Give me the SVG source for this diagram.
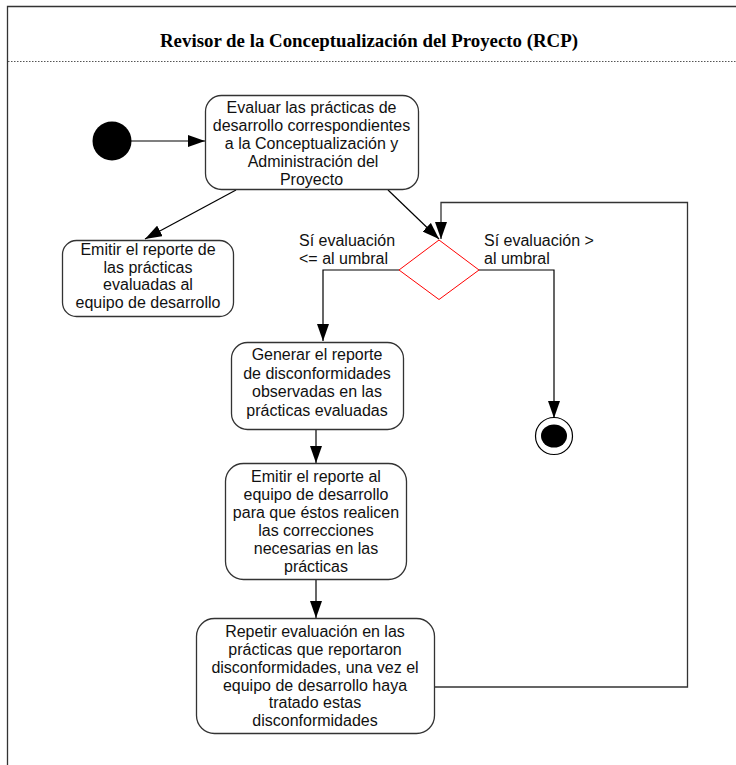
<svg xmlns="http://www.w3.org/2000/svg" width="736" height="765" viewBox="0 0 736 765">
<defs>
<marker id="arr" markerUnits="userSpaceOnUse" markerWidth="18" markerHeight="12" refX="17" refY="6" orient="auto">
<path d="M0,0 L17,6 L0,12 z" fill="#000"/>
</marker>
<style>
.box{fill:#fff;stroke:#333;stroke-width:1.3}
.t{font-family:"Liberation Sans",Arial,sans-serif;font-size:16px;fill:#111;text-anchor:middle}
.l{font-family:"Liberation Sans",Arial,sans-serif;font-size:16px;fill:#111}
.c{fill:none;stroke:#000;stroke-width:1.2}
.c2{fill:none;stroke:#333;stroke-width:1.3}
</style>
</defs>
<rect width="736" height="765" fill="#fff"/>
<g id="frame">
<path d="M7.5,765 V6.5 H736" fill="none" stroke="#333" stroke-width="1.3"/>
<line x1="8" y1="61.5" x2="736" y2="61.5" stroke="#555" stroke-width="1" stroke-dasharray="1.5,1.5"/>
<text x="369" y="47" font-family="'Liberation Serif','Times New Roman',serif" font-weight="bold" font-size="19" text-anchor="middle" textLength="418" lengthAdjust="spacingAndGlyphs">Revisor de la Conceptualización del Proyecto (RCP)</text>
</g>
<g id="connectors">
<line class="c" x1="131" y1="141" x2="205" y2="141" marker-end="url(#arr)"/>
<line class="c" x1="236" y1="190" x2="145" y2="239" marker-end="url(#arr)"/>
<line class="c" x1="388" y1="190" x2="439" y2="239" marker-end="url(#arr)"/>
<polyline class="c" points="399,270 323,270 323,341" marker-end="url(#arr)"/>
<polyline class="c" points="479,270 554,270 554,418" marker-end="url(#arr)"/>
<line class="c" x1="316" y1="430" x2="316" y2="463" marker-end="url(#arr)"/>
<line class="c" x1="316" y1="580" x2="316" y2="618" marker-end="url(#arr)"/>
<polyline class="c2" points="434,687 687.5,687 687.5,202.5 441,202.5 441,239" marker-end="url(#arr)"/>
<text class="l" x="299" y="246">Sí evaluación</text>
<text class="l" x="299" y="264">&lt;= al umbral</text>
<text class="l" x="484" y="246">Sí evaluación &gt;</text>
<text class="l" x="484" y="264">al umbral</text>
</g>
<g id="start">
<circle cx="112" cy="141" r="19.5" fill="#000"/>
</g>
<g id="n1">
<rect class="box" x="205.5" y="95.5" width="213" height="94" rx="16"/>
<text class="t"><tspan x="311.5" y="113">Evaluar las prácticas de</tspan><tspan x="311.5" y="131">desarrollo correspondientes</tspan><tspan x="311.5" y="149">a la Conceptualización y</tspan><tspan x="313" y="167">Administración del</tspan><tspan x="311.5" y="185">Proyecto</tspan></text>
</g>
<g id="n2">
<rect class="box" x="62.5" y="240.5" width="171" height="76" rx="14"/>
<text class="t"><tspan x="148" y="255">Emitir el reporte de</tspan><tspan x="148" y="273">las prácticas</tspan><tspan x="148" y="290">evaluadas al</tspan><tspan x="148" y="308">equipo de desarrollo</tspan></text>
</g>
<g id="decision">
<polygon points="439,240 479,270 439,299.5 399,270" fill="#fff" stroke="#f00" stroke-width="1"/>
</g>
<g id="n3">
<rect class="box" x="231.5" y="342.5" width="172" height="87" rx="16"/>
<text class="t"><tspan x="317" y="360">Generar el reporte</tspan><tspan x="317" y="379">de disconformidades</tspan><tspan x="317" y="397">observadas en las</tspan><tspan x="317" y="416">prácticas evaluadas</tspan></text>
</g>
<g id="n4">
<rect class="box" x="225.5" y="463.5" width="181" height="116" rx="18"/>
<text class="t"><tspan x="316" y="482">Emitir el reporte al</tspan><tspan x="316" y="500">equipo de desarrollo</tspan><tspan x="316" y="518">para que éstos realicen</tspan><tspan x="316" y="536">las correcciones</tspan><tspan x="316" y="554">necesarias en las</tspan><tspan x="316" y="572">prácticas</tspan></text>
</g>
<g id="n5">
<rect class="box" x="196.5" y="618.5" width="238" height="115" rx="18"/>
<text class="t"><tspan x="315" y="637">Repetir evaluación en las</tspan><tspan x="315" y="655">prácticas que reportaron</tspan><tspan x="315" y="673">disconformidades, una vez el</tspan><tspan x="315" y="691">equipo de desarrollo haya</tspan><tspan x="315" y="708">tratado estas</tspan><tspan x="315" y="726">disconformidades</tspan></text>
</g>
<g id="end">
<circle cx="554" cy="436" r="18.5" fill="#fff" stroke="#000" stroke-width="1.2"/>
<ellipse cx="554" cy="436" rx="13" ry="11.5" fill="#000"/>
</g>
</svg>
